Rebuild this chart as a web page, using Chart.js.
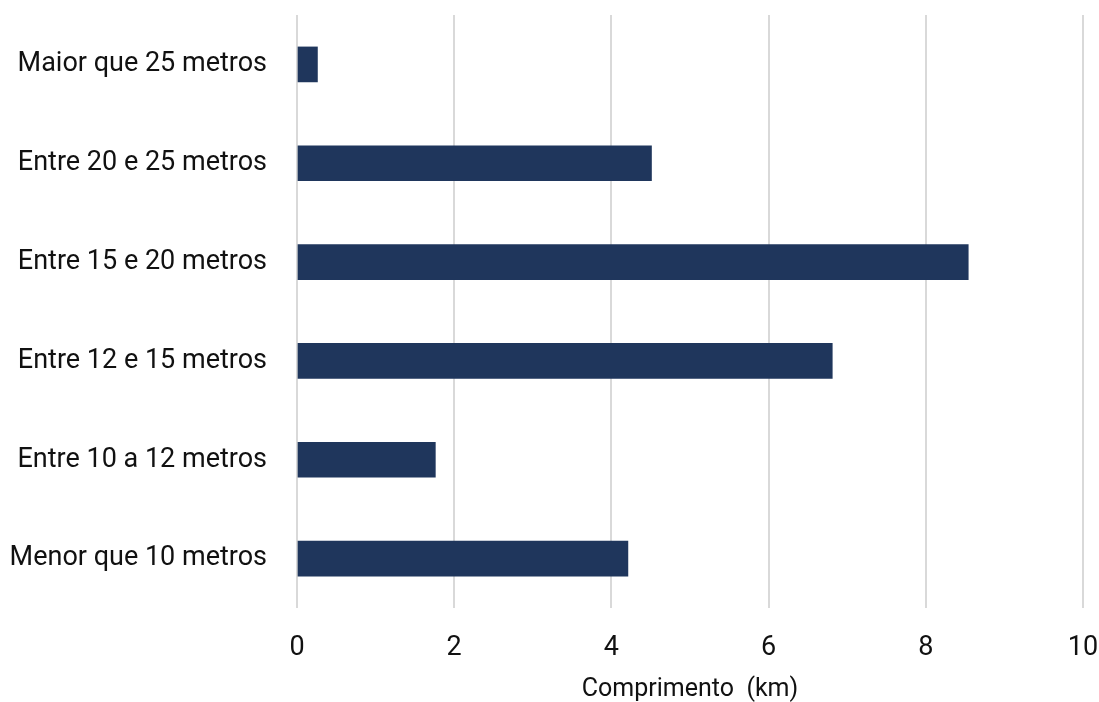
<!DOCTYPE html>
<html>
<head>
<meta charset="utf-8">
<script src="https://cdn.jsdelivr.net/npm/chart.js@4"></script>
<style>
  html, body { margin: 0; padding: 0; background: #fff; }
  #wrap { width: 1099px; height: 702px; }
</style>
</head>
<body>
<div id="wrap"><canvas id="c"></canvas></div>
<script>
Chart.defaults.font.family = "Roboto";
Chart.defaults.color = "#111";

const categories = [
    "Maior que 25 metros",
    "Entre 20 e 25 metros",
    "Entre 15 e 20 metros",
    "Entre 12 e 15 metros",
    "Entre 10 a 12 metros",
    "Menor que 10 metros",
];
const lengthKm = [0.26, 4.51, 8.54, 6.81, 1.76, 4.21];

const C = {
    bar:  "#1f365c",
    grid: "#d9d9d9",
};

new Chart(document.getElementById("c"), {
    type: "bar",
    data: {
        labels: categories,
        datasets: [{
            label: "Comprimento (km)",
            data: lengthKm,
            backgroundColor: C.bar,
            barThickness: 35,
        }],
    },
    options: {
        indexAxis: "y",
        responsive: true,
        maintainAspectRatio: false,
        animation: false,
        layout: { padding: { top: 15, right: 16, bottom: 0, left: 0 } },
        plugins: {
            legend: { display: false },
            tooltip: { enabled: false },
        },
        scales: {
            x: {
                min: 0,
                max: 10,
                ticks: { stepSize: 2, padding: 24, font: { size: 27 } },
                grid: { color: C.grid, lineWidth: 2, drawTicks: false },
                border: { display: false },
                title: {
                    display: true,
                    text: "Comprimento  (km)",
                    font: { size: 25, lineHeight: 1 },
                    padding: { top: 0, bottom: 0 },
                },
                afterFit: s => {
                    s.height = 94;
                    s.paddingLeft = 0;
                    s.paddingRight = 0;
                },
            },
            y: {
                ticks: { padding: 30, font: { size: 27 } },
                grid: { display: false, drawTicks: false },
                border: { display: false },
                afterFit: s => {
                    s.width = 297;
                    s.paddingTop = 0;
                    s.paddingBottom = 0;
                },
            },
        },
    },
});
</script>
</body>
</html>
